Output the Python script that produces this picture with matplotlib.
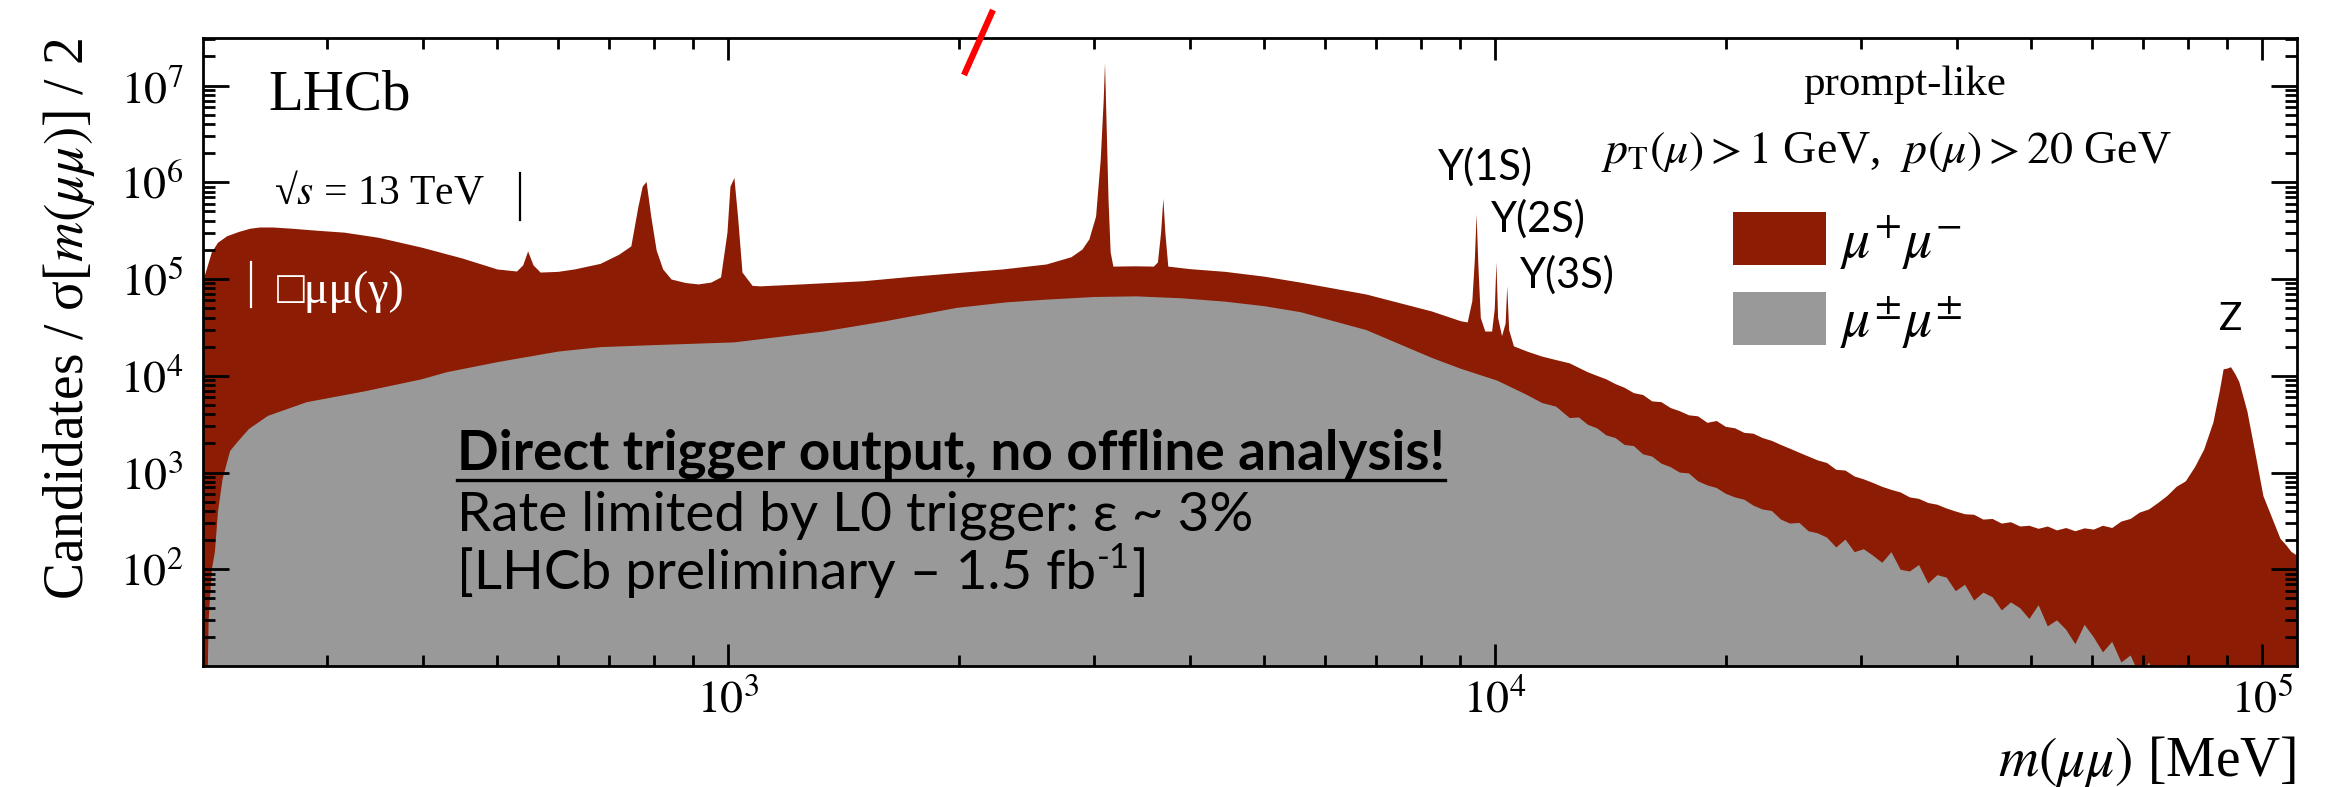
import matplotlib
matplotlib.use("Agg")
import matplotlib.pyplot as plt
from matplotlib.ticker import LogLocator, NullFormatter, FixedLocator, FixedFormatter
from matplotlib.lines import Line2D
from matplotlib.transforms import IdentityTransform

plt.rcParams['font.family'] = ['Liberation Serif', 'DejaVu Serif']
plt.rcParams['mathtext.fontset'] = 'stix'

# ---- dimuon invariant-mass spectrum, opposite-sign pairs (MeV, candidates) ----
mass_os = [
    206, 209, 212, 216, 222, 230, 238, 245, 255, 270, 290, 316, 350, 398, 450,
    500, 530, 540, 548, 557, 569, 600, 630, 681, 720, 747, 763, 773, 782, 793,
    806, 822, 843, 880, 914, 950, 978, 997, 1006, 1018, 1029, 1043, 1075, 1100,
    1245, 1500, 1740, 2000, 2277, 2598, 2800, 2894, 2955, 3015, 3057, 3085, 3097,
    3110, 3130, 3150, 3176, 3400, 3586, 3630, 3665, 3690, 3712, 3745, 4000, 4446,
    5000, 5570, 6790, 8260, 9020, 9200, 9330, 9400, 9450, 9500, 9570, 9700, 9900,
    9980, 10030, 10080, 10200, 10310, 10360, 10420, 10570, 11000, 11500, 12000,
    12500, 12850, 13200, 13570, 13950, 14340, 14740, 15150, 15580, 16010, 16460,
    16920, 17400, 17880, 18380, 18900, 19430, 19970, 20530, 21110, 21700, 22300,
    22930, 23570, 24230, 24910, 25600, 26320, 27060, 27820, 28600, 29400, 30220,
    31070, 31940, 32830, 33750, 34700, 35670, 36670, 37690, 38750, 39830, 40950,
    42100, 43270, 44490, 45730, 47010, 48330, 49680, 51070, 52500, 53970, 55480,
    57040, 58630, 60280, 61960, 63700, 65480, 67320, 69200, 71140, 73130, 75180,
    77290, 79450, 81680, 83960, 86310, 88000, 89000, 90000, 91000, 92200, 93300,
    94400, 95600, 97500, 99000, 100300, 102900, 105560, 107500, 109100, 111000,
]
counts_os = [
    9.0e4, 1.3e5, 1.9e5, 2.4e5, 2.8e5, 3.1e5, 3.35e5, 3.45e5, 3.45e5, 3.35e5,
    3.2e5, 3.05e5, 2.7e5, 2.14e5, 1.65e5,
    1.27e5, 1.21e5, 1.4e5, 1.95e5, 1.4e5, 1.18e5, 1.2e5, 1.27e5, 1.45e5, 1.8e5,
    2.2e5, 5.6e5, 9.1e5, 1.02e6, 4.5e5,
    2.0e5, 1.27e5, 1.0e5, 9.2e4, 8.9e4, 9.3e4, 1.05e5, 3.05e5, 9.1e5, 1.12e6,
    4.5e5, 1.18e5, 8.6e4, 8.5e4,
    8.9e4, 9.6e4, 1.07e5, 1.17e5, 1.27e5, 1.43e5, 1.7e5, 2.04e5, 2.6e5, 4.47e5,
    1.7e6, 7.2e6, 1.73e7,
    4.8e6, 6.6e5, 1.9e5, 1.36e5, 1.37e5, 1.36e5, 1.5e5, 3.05e5, 6.84e5, 3.05e5,
    1.36e5, 1.28e5, 1.2e5,
    1.07e5, 9.3e4, 7.0e4, 4.68e4, 3.7e4, 3.6e4, 6.0e4, 1.6e5, 4.7e5, 1.4e5,
    4.0e4, 2.9e4, 2.9e4,
    5.0e4, 1.5e5, 4.0e4, 2.6e4, 3.5e4, 8.5e4, 3.0e4, 2.04e4, 1.8e4, 1.6e4,
    1.47e4,
    13600, 12200, 11000, 10100, 9300, 8300, 7600, 6700, 6400, 5500, 5400,
    4700, 4350, 3950, 3850, 3300, 3450, 3000, 2900, 2600, 2550, 2300,
    2150, 1950, 1780, 1620, 1480, 1350, 1270, 1080, 1060, 920, 860,
    790, 720, 670, 630, 560, 540, 490, 470, 430, 400, 375,
    370, 330, 335, 300, 310, 280, 285, 265, 280, 255, 270,
    250, 268, 260, 285, 270, 315, 335, 390, 420, 490, 580,
    720, 820, 1150, 1750, 3330, 7100, 11800, 12000, 12400, 10500, 8700,
    6200, 4300, 1900, 1000, 577, 347, 209, 178, 153, 140,
]

# ---- same-sign pairs (combinatorial background) ----
mass_ss = [
    206, 209, 210, 212, 214, 216, 219, 222, 224, 229, 237, 251, 282, 336, 398,
    429, 500, 600, 681, 800, 1018, 1330, 1600, 1987, 2300, 2598, 3000, 3400,
    3900, 4446, 5000, 5570, 6790, 8260, 9000, 10060, 11000, 11500, 12000,
    12500, 12850, 13200, 13570, 13950, 14340, 14740, 15150, 15580, 16010, 16460,
    16920, 17400, 17880, 18380, 18900, 19430, 19970, 20530, 21110, 21700, 22300,
    22930, 23570, 24230, 24910, 25600, 26320, 27060, 27820, 28600, 29400, 30220,
    31070, 31940, 32830, 33750, 34700, 35670, 36670, 37690, 38750, 39830, 40950,
    42100, 43270, 44490, 45730, 47010, 48330, 49680, 51070, 52500, 53970, 55480,
    57040, 58630, 60280, 61960, 63700, 65480, 67320, 69200, 71140, 73130, 75180,
    77290, 79450, 81680, 83960, 86310, 88730, 91210, 93770, 96390, 99090, 101860,
    104710, 107650, 111000,
]
counts_ss = [
    1, 3, 30, 100, 153, 400, 867, 1300, 1690, 2090, 2850, 3900, 5400, 7000, 9300,
    1.1e4, 1.4e4, 1.8e4, 2.0e4, 2.1e4, 2.24e4, 2.9e4, 3.7e4, 5.1e4, 5.8e4, 6.2e4,
    6.6e4, 6.7e4,
    6.4e4, 5.9e4, 5.3e4, 4.6e4, 3.0e4, 1.55e4, 1.2e4, 9.0e3, 6.4e3, 5.3e3, 4.85e3,
    3700, 3750, 3150, 2900, 2450, 2300, 1950, 1900, 1560, 1480, 1250,
    1150, 1010, 990, 820, 745, 700, 610, 560, 530, 460, 420,
    405, 330, 300, 305, 250, 238, 215, 170, 205, 152, 163,
    140, 118, 152, 100, 96, 112, 72, 88, 83, 60, 70,
    48, 58, 52, 38, 46, 40, 31, 43, 26, 30, 24,
    17, 27, 20, 14, 18, 11, 13, 8, 11, 7, 6,
    10.5, 5, 10.5, 6, 4, 5, 4, 3, 3, 2, 2,
    2, 2, 2,
]

x_ticks = [1e3, 1e4, 1e5]
x_tick_labels = [r'$10^{3}$', r'$10^{4}$', r'$10^{5}$']
y_ticks = [1e2, 1e3, 1e4, 1e5, 1e6, 1e7]
y_tick_labels = [r'$10^{2}$', r'$10^{3}$', r'$10^{4}$', r'$10^{5}$', r'$10^{6}$', r'$10^{7}$']
series_labels = [r'$\mu^{+}\mu^{-}$', r'$\mu^{\pm}\mu^{\pm}$']
series_colors = ['#8c1c03', '#999999']

W, H = 2331, 787


def fx(x):
    return x / W


def fy(y):
    return 1 - y / H


fig = plt.figure(figsize=(W / 100, H / 100), dpi=100)
ax = fig.add_axes([fx(203), fy(666), fx(2297) - fx(203), fy(38) - fy(666)])
ax.set_xscale('log')
ax.set_yscale('log')

os_fill = ax.fill_between(mass_os, counts_os, 1, color=series_colors[0], lw=0,
                          label=series_labels[0], zorder=1)
ss_fill = ax.fill_between(mass_ss, counts_ss, 1, color=series_colors[1], lw=0,
                          label=series_labels[1], zorder=1.1)

ax.set_xlim(206.8, 1.111e5)
ax.set_ylim(10, 3.1e7)

ax.xaxis.set_major_locator(FixedLocator(x_ticks))
ax.xaxis.set_major_formatter(FixedFormatter(x_tick_labels))
ax.yaxis.set_major_locator(FixedLocator(y_ticks))
ax.yaxis.set_major_formatter(FixedFormatter(y_tick_labels))
ax.xaxis.set_minor_locator(LogLocator(base=10, subs=range(2, 10), numticks=50))
ax.yaxis.set_minor_locator(LogLocator(base=10, subs=range(2, 10), numticks=50))
ax.xaxis.set_minor_formatter(NullFormatter())
ax.yaxis.set_minor_formatter(NullFormatter())

ax.tick_params(which='both', direction='in', top=True, right=True, width=2.0,
               labelsize=33)
ax.tick_params(axis='x', which='major', length=16, pad=10)
ax.tick_params(axis='x', which='minor', length=8)
ax.tick_params(axis='y', which='major', length=19, pad=14)
ax.tick_params(axis='y', which='minor', length=8.5)
for sp in ax.spines.values():
    sp.set_linewidth(2.0)

# axis titles
fig.text(fx(69), fy(38), r'Candidates / σ[$m(\mu\mu)$] / 2', rotation=90,
         ha='center', va='top', fontsize=40)
fig.text(fx(2296), fy(776), r'$m(\mu\mu)$ [MeV]', ha='right', va='baseline',
         fontsize=40)

# experiment and selection labels
fig.text(fx(268), fy(110), 'LHCb', fontsize=41, va='baseline')
fig.text(fx(274), fy(203), r'√$s$ = 13 TeV', fontsize=30, va='baseline')
fig.text(fx(1905), fy(95), 'prompt-like', fontsize=31, ha='center', va='baseline')
fig.text(fx(1601), fy(163), r'$p_{\mathrm{T}}(\mu) > 1$ GeV,  $p(\mu) > 20$ GeV',
         fontsize=33, va='baseline')

# resonance labels
sans = ['Lato', 'DejaVu Sans']
fig.text(fx(1438), fy(180), 'Y(1S)', fontsize=30, family=sans, va='baseline')
fig.text(fx(1491), fy(232), 'Y(2S)', fontsize=30, family=sans, va='baseline')
fig.text(fx(1520), fy(288), 'Y(3S)', fontsize=30, family=sans, va='baseline')
fig.text(fx(2219), fy(330), 'Z', fontsize=28, family=sans, va='baseline')

# low-mass annotation drawn on the spectrum
fig.text(fx(277), fy(303), '□μμ(γ)', color='white', fontsize=33,
         family=['Liberation Serif', 'DejaVu Sans'], va='baseline')
fig.add_artist(Line2D([fx(251), fx(251)], [fy(262), fy(307)], color='white', lw=1.6))
fig.add_artist(Line2D([fx(520), fx(520)], [fy(173), fy(220)], color='black', lw=1.6))
fig.add_artist(Line2D([fx(993), fx(964)], [fy(10), fy(75)], color='#ff0000', lw=4.5,
                      solid_capstyle='butt'))

leg = ax.legend(handles=[os_fill, ss_fill], labels=series_labels, loc='upper left',
                bbox_to_anchor=(fx(1733), fy(212)), bbox_transform=fig.transFigure,
                frameon=False, fontsize=40, handlelength=1.67, handleheight=1.1,
                handletextpad=0.25, labelspacing=0.36, borderpad=0, borderaxespad=0)

# trigger-output comment block
t1 = fig.text(fx(457), fy(470), 'Direct trigger output, no offline analysis!',
              fontsize=39.5, family=sans, weight='bold', va='baseline')
fig.text(fx(457), fy(530), 'Rate limited by L0 trigger: ε ~ 3%', fontsize=39.5,
         family=sans, va='baseline')
t3 = fig.text(fx(457), fy(589), '[LHCb preliminary – 1.5 fb', fontsize=39.5,
              family=sans, va='baseline')

renderer = fig.canvas.get_renderer()
bb1 = t1.get_window_extent(renderer)
base1 = H - 470
fig.add_artist(Line2D([bb1.x0, bb1.x1], [base1 - 10, base1 - 10], color='black', lw=2.4,
                      transform=IdentityTransform()))
bb3 = t3.get_window_extent(renderer)
base3 = H - 589
sup = fig.text(bb3.x1 + 1, base3 + 21, '-1', fontsize=25, family=sans,
               va='baseline', transform=IdentityTransform())
bbs = sup.get_window_extent(renderer)
fig.text(bbs.x1 + 1, base3, ']', fontsize=39.5, family=sans, va='baseline',
         transform=IdentityTransform())

fig.savefig('out.png', dpi=100)
